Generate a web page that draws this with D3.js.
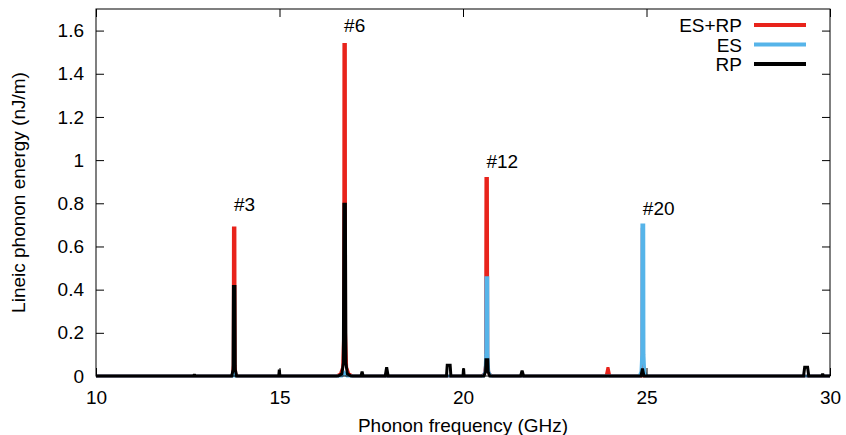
<!DOCTYPE html>
<html><head><meta charset="utf-8">
<script src="https://cdn.jsdelivr.net/npm/d3@7"></script>
<style>body{margin:0;background:#fff}svg{display:block}text{font-family:"Liberation Sans",Arial,sans-serif}</style>
</head><body>
<script>
// Data (frequency GHz, lineic energy nJ/m)
const xTicks = [10, 15, 20, 25, 30];
const yTicks = [0, 0.2, 0.4, 0.6, 0.8, 1, 1.2, 1.4, 1.6];
const seriesNames = ["ES+RP", "ES", "RP"];
const seriesColors = ["#e8231b", "#56b4e9", "#000000"];
const esrp = [[10,0],
  [13.68,0],[13.72,0.01],[13.74,0.05],[13.745,0.685],[13.785,0.685],[13.79,0.05],[13.81,0.01],[13.85,0],
  [16.55,0],[16.66,0.01],[16.72,0.04],[16.75,0.2],[16.755,1.535],[16.795,1.535],[16.80,0.2],[16.83,0.04],[16.89,0.01],[17.0,0],
  [20.50,0],[20.58,0.01],[20.615,0.05],[20.625,0.915],[20.665,0.915],[20.675,0.05],[20.71,0.01],[20.80,0],
  [23.90,0],[23.95,0.04],[24.0,0],
  [24.85,0],[24.88,0.05],[24.885,0.68],[24.915,0.68],[24.92,0.05],[24.95,0],[30,0]];
const es = [[10,0],[13.72,0],[13.76,0.04],[13.80,0],
  [16.70,0],[16.77,0.015],[16.84,0],
  [20.55,0],[20.60,0.02],[20.62,0.1],[20.625,0.455],[20.675,0.455],[20.68,0.1],[20.70,0.02],[20.76,0],
  [24.80,0],[24.85,0.02],[24.87,0.1],[24.875,0.70],[24.925,0.70],[24.93,0.1],[24.95,0.02],[25.0,0],[30,0]];
const rp = [[10,0],[12.66,0],[12.68,0.008],[12.70,0],
  [13.70,0],[13.735,0.03],[13.745,0.415],[13.785,0.415],[13.795,0.03],[13.83,0],
  [14.98,0],[14.995,0.03],[15.01,0],
  [16.60,0],[16.70,0.01],[16.74,0.06],[16.755,0.795],[16.795,0.795],[16.81,0.06],[16.85,0.01],[16.95,0],
  [17.22,0],[17.25,0.02],[17.28,0],
  [17.88,0],[17.92,0.04],[17.96,0],
  [19.55,0],[19.57,0.05],[19.65,0.05],[19.67,0],
  [20.0,0],[20.015,0.035],[20.03,0],
  [20.57,0],[20.615,0.02],[20.625,0.075],[20.675,0.075],[20.685,0.02],[20.73,0],
  [21.57,0],[21.61,0.025],[21.65,0],
  [24.85,0],[24.89,0.035],[24.93,0],
  [29.28,0],[29.31,0.04],[29.39,0.04],[29.42,0],
  [29.78,0],[29.80,0.01],[29.82,0],[30,0]];
const peakLabels = ["#3", "#6", "#12", "#20"];
const peakLabelX = [13.76, 16.76, 20.64, 24.9];
const peakLabelY = [0.765, 1.595, 0.965, 0.747];

const W = 846, H = 435;
const FS = 19;
const m = {l:96, r:16, t:9, b:59};
const svg = d3.select("body").append("svg").attr("width", W).attr("height", H);
const x = d3.scaleLinear().domain([10, 30]).range([m.l, W - m.r]);
const y = d3.scaleLinear().domain([0, 1.7]).range([H - m.b, m.t]);

const g = svg.append("g");
const line = d3.line().x(d => x(d[0])).y(d => y(d[1]));
[esrp, es, rp].forEach((s, i) => {
  g.append("path").datum(s).attr("d", line).attr("fill", "none")
    .attr("stroke", seriesColors[i]).attr("stroke-width", 3)
    .attr("stroke-linejoin", "miter").attr("stroke-miterlimit", 2);
});

// axes (inward ticks on all four sides)
const fmt = d => d3.format("~g")(d);
const ax = [
  svg.append("g").attr("transform", `translate(0,${H - m.b})`).call(d3.axisBottom(x).tickValues(xTicks).tickSize(-8).tickPadding(15).tickFormat(fmt)),
  svg.append("g").attr("transform", `translate(0,${m.t})`).call(d3.axisTop(x).tickValues(xTicks).tickSize(-8).tickFormat("")),
  svg.append("g").attr("transform", `translate(${m.l},0)`).call(d3.axisLeft(y).tickValues(yTicks).tickSize(-8).tickPadding(12).tickFormat(fmt)),
  svg.append("g").attr("transform", `translate(${W - m.r},0)`).call(d3.axisRight(y).tickValues(yTicks).tickSize(-8).tickFormat(""))
];
ax.forEach(a => {
  a.select(".domain").remove();
  a.selectAll("line").attr("stroke", "#000");
  a.selectAll("text").attr("font-size", FS).attr("fill", "#000")
    .attr("font-family", '"Liberation Sans",Arial,sans-serif');
});
svg.append("rect").attr("x", m.l).attr("y", m.t).attr("width", W - m.l - m.r).attr("height", H - m.t - m.b)
  .attr("fill", "none").attr("stroke", "#000").attr("stroke-width", 1);

// peak labels
peakLabels.forEach((t, i) => {
  svg.append("text").attr("x", x(peakLabelX[i])).attr("y", y(peakLabelY[i]))
    .attr("text-anchor", "start").attr("font-size", FS).text(t);
});

// axis titles
svg.append("text").attr("x", 463).attr("y", 432).attr("text-anchor", "middle")
  .attr("font-size", FS).text("Phonon frequency (GHz)");
svg.append("text").attr("transform", `translate(25,${(m.t + H - m.b) / 2}) rotate(-90)`)
  .attr("text-anchor", "middle").attr("font-size", FS).text("Lineic phonon energy (nJ/m)");

// legend
seriesNames.forEach((n, i) => {
  const yy = 25 + i * 19.5;
  svg.append("text").attr("x", 742).attr("y", yy + 7).attr("text-anchor", "end")
    .attr("font-size", FS).text(n);
  svg.append("line").attr("x1", 754).attr("x2", 806).attr("y1", yy).attr("y2", yy)
    .attr("stroke", seriesColors[i]).attr("stroke-width", 4);
});
</script>
</body></html>
